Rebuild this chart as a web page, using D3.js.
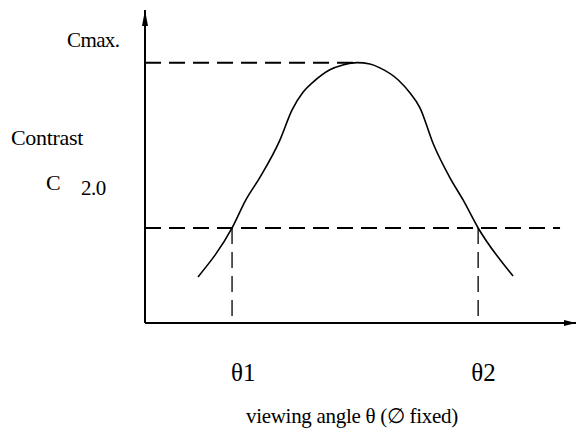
<!DOCTYPE html>
<html>
<head>
<meta charset="utf-8">
<script src="https://cdn.jsdelivr.net/npm/d3@7"></script>
<style>
  html, body { margin: 0; padding: 0; background: #fff; }
</style>
</head>
<body>
<svg id="chart" width="576" height="432"></svg>
<script>
// viewing angle (arbitrary units along the axis) and contrast C
const angles   = [12.3, 20.2, 23.4, 26.7, 31.3, 34.1, 36.7, 39.0, 42.9, 45.9, 49.2, 52.2, 54.5, 58.7, 61.5, 63.8, 66.8, 70.8, 73.8, 77.3, 85.4];
const contrast = [0.97, 2.0, 2.59, 3.07, 3.85, 4.48, 4.86, 5.07, 5.33, 5.43, 5.48, 5.45, 5.37, 5.12, 4.84, 4.53, 3.79, 3.05, 2.59, 2.0, 0.99];

const cMax = 5.48;
const cMaxAngle = 49.2;
const cThreshold = 2.0;
const thresholdEnd = 96.3;
const thetaCrossings = [20.2, 77.3];
const thetaLabels = ["θ1", "θ2"];

const svg = d3.select("#chart");

const x = d3.scaleLinear().domain([0, 100]).range([145, 576]);
const y = d3.scaleLinear().domain([0, 6.63]).range([323, 8]);

// axes with arrowheads
const defs = svg.append("defs");
defs.append("marker")
    .attr("id", "arrowUp")
    .attr("viewBox", "0 0 6 16")
    .attr("refX", 3).attr("refY", 0)
    .attr("markerWidth", 6).attr("markerHeight", 16)
    .attr("markerUnits", "userSpaceOnUse")
    .attr("orient", "0")
    .append("path").attr("d", "M3,0 L6,16 L0,16 Z").attr("fill", "#000");
defs.append("marker")
    .attr("id", "arrowRight")
    .attr("viewBox", "0 0 12 6")
    .attr("refX", 12).attr("refY", 3)
    .attr("markerWidth", 12).attr("markerHeight", 6)
    .attr("markerUnits", "userSpaceOnUse")
    .attr("orient", "0")
    .append("path").attr("d", "M0,0 L12,3 L0,6 Z").attr("fill", "#000");

svg.append("line")
    .attr("x1", x(0)).attr("y1", y(0))
    .attr("x2", x(0)).attr("y2", y.range()[1] + 2)
    .attr("stroke", "#000").attr("stroke-width", 2)
    .attr("marker-end", "url(#arrowUp)");

svg.append("line")
    .attr("x1", x(0)).attr("y1", y(0))
    .attr("x2", x.range()[1]).attr("y2", y(0))
    .attr("stroke", "#000").attr("stroke-width", 2)
    .attr("marker-end", "url(#arrowRight)");

// dashed guides
svg.append("line")
    .attr("x1", x(0)).attr("x2", x(cMaxAngle))
    .attr("y1", y(cMax)).attr("y2", y(cMax))
    .attr("stroke", "#000").attr("stroke-width", 2)
    .attr("stroke-dasharray", "16,8");

svg.append("line")
    .attr("x1", x(0)).attr("x2", x(thresholdEnd))
    .attr("y1", y(cThreshold)).attr("y2", y(cThreshold))
    .attr("stroke", "#000").attr("stroke-width", 2)
    .attr("stroke-dasharray", "16,8");

svg.selectAll(".vguide")
    .data(thetaCrossings)
    .enter().append("line")
    .attr("class", "vguide")
    .attr("x1", d => x(d)).attr("x2", d => x(d))
    .attr("y1", y(cThreshold)).attr("y2", y(0))
    .attr("stroke", "#222").attr("stroke-width", 1.5)
    .attr("stroke-dasharray", "16,8");

// curve
const points = angles.map((a, i) => [a, contrast[i]]);
svg.append("path")
    .datum(points)
    .attr("fill", "none")
    .attr("stroke", "#000")
    .attr("stroke-width", 1.6)
    .attr("d", d3.line()
        .x(d => x(d[0]))
        .y(d => y(d[1]))
        .curve(d3.curveMonotoneX));

// labels
const label = (tx, ty, size, str, spacing) => svg.append("text")
    .attr("x", tx).attr("y", ty)
    .style("font-family", '"Liberation Serif"')
    .style("font-size", size + "px")
    .style("letter-spacing", (spacing || 0) + "px")
    .attr("fill", "#000")
    .text(str);

label(67, 47, 21, "Cmax.", -0.6);
label(11, 145, 22, "Contrast", -0.3);
label(46, 190, 22, "C");
label(81, 195, 21, "2.0", -0.5);

// theta labels sit just under their crossing points
const thetaOffsets = [-1, -7];
thetaLabels.forEach((t, i) => label(x(thetaCrossings[i]) + thetaOffsets[i], 381, 25, t));

label(246, 423, 21, "viewing angle θ (∅ fixed)", -0.3);
</script>
</body>
</html>
